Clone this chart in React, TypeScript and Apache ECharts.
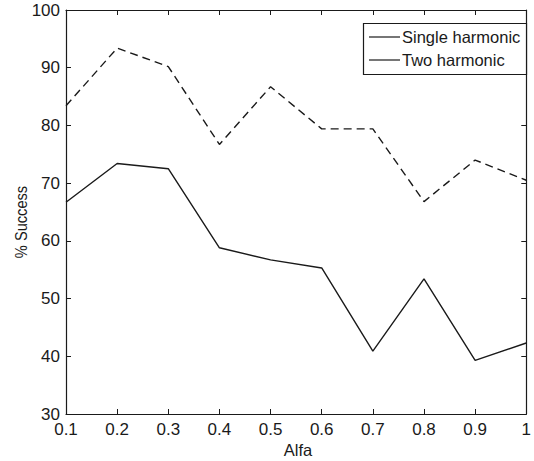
import React, { useEffect, useRef } from "react";
import * as echarts from "echarts";

const alfa = ["0.1", "0.2", "0.3", "0.4", "0.5", "0.6", "0.7", "0.8", "0.9", "1"];
const alfaValues = [0.1, 0.2, 0.3, 0.4, 0.5, 0.6, 0.7, 0.8, 0.9, 1.0];
const twoHarmonic = [83.4, 93.4, 90.2, 76.7, 86.7, 79.4, 79.4, 66.8, 74.0, 70.5];
const singleHarmonic = [66.7, 73.4, 72.5, 58.8, 56.7, 55.3, 40.9, 53.4, 39.3, 42.3];
const legendNames = ["Single harmonic", "Two harmonic"];
const xLabel = "Alfa";
const yLabel = "% Success";

const INK = "#1a1a1a";
const FONT = "'Liberation Sans', Arial, sans-serif";

export default function App() {
  const ref = useRef<HTMLDivElement>(null);
  useEffect(() => {
    if (!ref.current) return;
    const chart = echarts.init(ref.current, null, { renderer: "svg" });
    const axisCommon = {
      axisLine: { show: true, lineStyle: { color: INK, width: 1.2 } },
      axisTick: { show: true, inside: true, length: 5, lineStyle: { color: INK, width: 1 } },
      splitLine: { show: false },
    };
    const tickLabelStyle = { color: INK, fontSize: 17, fontFamily: FONT };
    const toPairs = (arr: number[]) => arr.map((v, i) => [alfaValues[i], v]);
    chart.setOption({
      animation: false,
      backgroundColor: "#ffffff",
      grid: { left: 66, right: 4, top: 10, bottom: 47, containLabel: false },
      xAxis: [
        {
          type: "value",
          min: 0.1,
          max: 1,
          interval: 0.1,
          position: "bottom",
          ...axisCommon,
          axisLabel: {
            ...tickLabelStyle,
            margin: 7,
            formatter: (v: number) => {
              const idx = alfaValues.findIndex((a) => Math.abs(a - v) < 1e-6);
              return idx >= 0 ? alfa[idx] : "";
            },
          },
        },
        {
          type: "value",
          min: 0.1,
          max: 1,
          interval: 0.1,
          position: "top",
          ...axisCommon,
          axisLabel: { show: false },
        },
      ],
      yAxis: [
        {
          type: "value",
          min: 30,
          max: 100,
          interval: 10,
          position: "left",
          ...axisCommon,
          axisLabel: { ...tickLabelStyle, margin: 6 },
        },
        {
          type: "value",
          min: 30,
          max: 100,
          interval: 10,
          position: "right",
          ...axisCommon,
          axisLabel: { show: false },
        },
      ],
      series: [
        {
          name: legendNames[1],
          type: "line",
          data: toPairs(twoHarmonic),
          symbol: "none",
          lineStyle: { color: INK, width: 1.4, type: [8, 5] },
        },
        {
          name: legendNames[0],
          type: "line",
          data: toPairs(singleHarmonic),
          symbol: "none",
          lineStyle: { color: INK, width: 1.4 },
        },
      ],
      graphic: [
        {
          type: "rect",
          shape: { x: 363.5, y: 23.5, width: 163, height: 51 },
          style: { fill: "#ffffff", stroke: INK, lineWidth: 1.2 },
          z: 10,
        },
        {
          type: "line",
          shape: { x1: 369, y1: 37, x2: 400, y2: 37 },
          style: { stroke: INK, lineWidth: 1.2 },
          z: 11,
        },
        {
          type: "line",
          shape: { x1: 369, y1: 60, x2: 400, y2: 60 },
          style: { stroke: INK, lineWidth: 1.2 },
          z: 11,
        },
        {
          type: "text",
          x: 402,
          y: 37,
          style: {
            text: legendNames[0],
            fill: INK,
            fontSize: 16.5,
            fontFamily: FONT,
            verticalAlign: "middle",
            align: "left",
          },
          z: 11,
        },
        {
          type: "text",
          x: 402,
          y: 60,
          style: {
            text: legendNames[1],
            fill: INK,
            fontSize: 16.5,
            fontFamily: FONT,
            verticalAlign: "middle",
            align: "left",
          },
          z: 11,
        },
        {
          type: "text",
          x: 298,
          y: 450,
          style: {
            text: xLabel,
            fill: INK,
            fontSize: 16.5,
            fontFamily: FONT,
            align: "center",
            verticalAlign: "middle",
          },
        },
        {
          type: "text",
          x: 21,
          y: 222,
          rotation: Math.PI / 2,
          scaleX: 0.86,
          style: {
            text: yLabel,
            fill: INK,
            fontSize: 17,
            fontFamily: FONT,
            align: "center",
            verticalAlign: "middle",
          },
        },
      ],
    });
    return () => chart.dispose();
  }, []);
  return <div ref={ref} style={{ width: 534, height: 461, position: "absolute", left: 0, top: 0 }} />;
}
